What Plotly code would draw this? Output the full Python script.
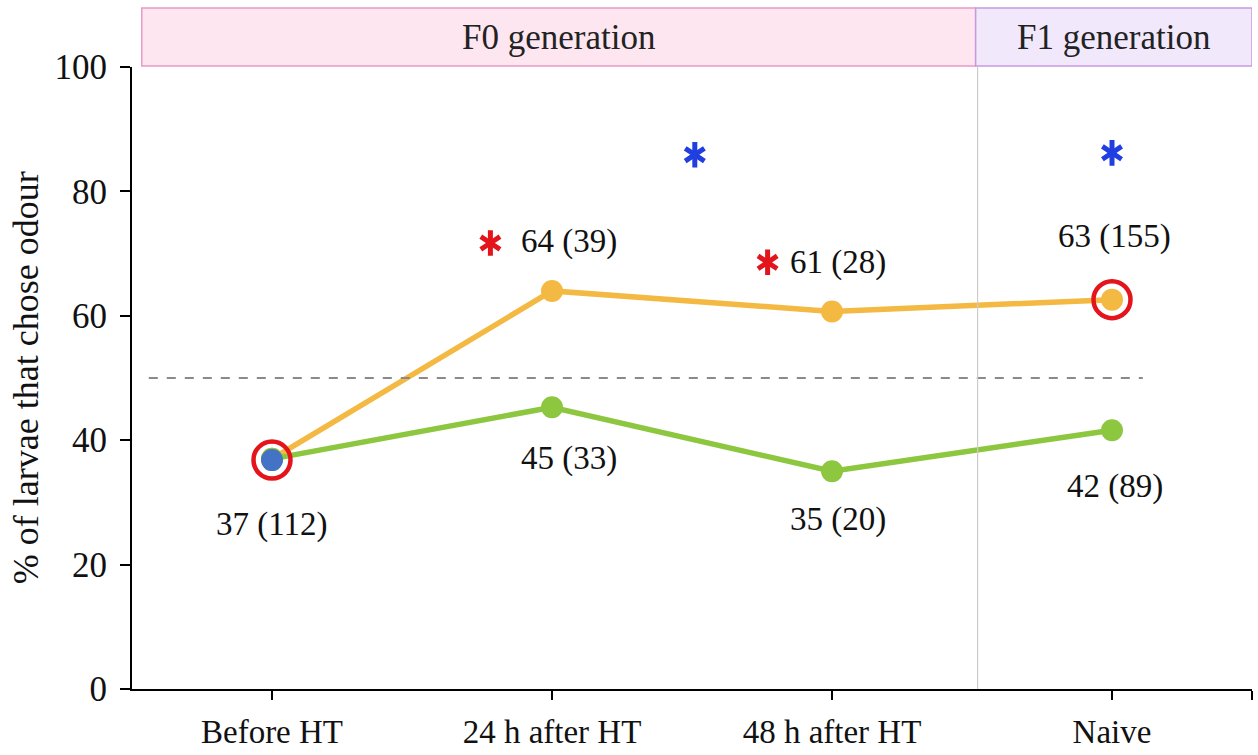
import plotly.graph_objects as go

# ---- data ----
categories = ["Before HT", "24 h after HT", "48 h after HT", "Naive"]
cat_pos = [0, 1, 2, 3]
orange_vals = [37.0, 64.0, 60.7, 62.6]
green_vals = [37.0, 45.3, 35.0, 41.6]
blue_val = [36.8]
orange_labels = ["64 (39)", "61 (28)", "63 (155)"]
green_labels = ["37 (112)", "45 (33)", "35 (20)", "42 (89)"]
chance_level = 50
red_star_x = [0.78, 1.77]
red_star_y = [71.7, 68.6]
blue_star_x = [1.51, 3.0]
blue_star_y = [85.9, 86.2]

# label positions (data coords)
orange_lab_x = [1.06, 2.02, 3.01]
orange_lab_y = [71.9, 68.6, 72.7]
green_lab_x = [0.0, 1.06, 2.02, 3.01]
green_lab_y = [26.5, 37.0, 27.3, 32.5]

ORANGE = "#F4B942"
GREEN = "#8DC63F"
BLUE = "#4472C4"
RED = "#E3141B"
STARBLUE = "#1F3FE0"
SERIF = "Liberation Serif, Times New Roman, serif"

fig = go.Figure()

# chance line
fig.add_shape(type="line", x0=-0.44, x1=3.11, y0=chance_level, y1=chance_level,
              xref="x", yref="y", line=dict(color="#8a8a8a", width=2, dash="dash"))
# divider
fig.add_shape(type="line", x0=2.52, x1=2.52, y0=0, y1=1, xref="x", yref="paper",
              line=dict(color="#cccccc", width=1.2))
# header boxes
fig.add_shape(type="rect", x0=-0.465, x1=2.513, y0=1.0016, y1=1.095, xref="x", yref="paper",
              fillcolor="#FDE6F0", line=dict(color="#E79BC8", width=1.5))
fig.add_shape(type="rect", x0=2.513, x1=3.5, y0=1.0016, y1=1.095, xref="x", yref="paper",
              fillcolor="#F1E9FB", line=dict(color="#C79ADF", width=1.5))
fig.add_annotation(x=(-0.465 + 2.513) / 2, y=1.048, xref="x", yref="paper",
                   xanchor="center", yanchor="middle",
                   text="F0 generation", showarrow=False,
                   font=dict(family=SERIF, size=35, color="#222"))
fig.add_annotation(x=(2.513 + 3.5) / 2, y=1.048, xref="x", yref="paper",
                   xanchor="center", yanchor="middle",
                   text="F1 generation", showarrow=False,
                   font=dict(family=SERIF, size=35, color="#222"))

fig.add_trace(go.Scatter(x=cat_pos, y=orange_vals, mode="lines+markers",
                         line=dict(color=ORANGE, width=5.5),
                         marker=dict(color=ORANGE, size=22), showlegend=False))
fig.add_trace(go.Scatter(x=cat_pos, y=green_vals, mode="lines+markers",
                         line=dict(color=GREEN, width=5.5),
                         marker=dict(color=GREEN, size=22), showlegend=False))
fig.add_trace(go.Scatter(x=[cat_pos[0]], y=blue_val, mode="markers",
                         marker=dict(color=BLUE, size=22), showlegend=False))
# red highlight circles
fig.add_trace(go.Scatter(x=[cat_pos[0], cat_pos[3]], y=[blue_val[0], orange_vals[3]],
                         mode="markers",
                         marker=dict(symbol="circle-open", size=37, color=RED,
                                     line=dict(color=RED, width=4.5)),
                         showlegend=False))

# asterisks (6 arms via two 3-arm markers)
for xs, ys, col in [(red_star_x, red_star_y, RED), (blue_star_x, blue_star_y, STARBLUE)]:
    for sym in ["y-up-open", "y-down-open"]:
        fig.add_trace(go.Scatter(x=xs, y=ys, mode="markers",
                                 marker=dict(symbol=sym, size=16, color=col,
                                             line=dict(color=col, width=5)),
                                 showlegend=False))

for t, x, y in zip(orange_labels, orange_lab_x, orange_lab_y):
    fig.add_annotation(x=x, y=y, text=t, showarrow=False, xanchor="center", yanchor="middle",
                       font=dict(family=SERIF, size=33, color="#111"))
for t, x, y in zip(green_labels, green_lab_x, green_lab_y):
    fig.add_annotation(x=x, y=y, text=t, showarrow=False, xanchor="center", yanchor="middle",
                       font=dict(family=SERIF, size=33, color="#111"))

# y title
fig.add_annotation(x=-0.0945, y=0.5, xref="paper", yref="paper",
                   xanchor="center", yanchor="middle",
                   text="% of larvae that chose odour", textangle=-90, showarrow=False,
                   font=dict(family=SERIF, size=36, color="#111"))

fig.update_xaxes(range=[-0.5, 3.5], tickvals=cat_pos + [3.5], ticktext=categories + [""],
                 showline=True, linecolor="black", linewidth=2, ticks="outside",
                 ticklen=9, tickwidth=2, tickcolor="black", showgrid=False, zeroline=False,
                 automargin=False,
                 ticklabelstandoff=3, tickfont=dict(family=SERIF, size=33, color="#111"))
fig.update_yaxes(range=[0, 100], tickvals=[0, 20, 40, 60, 80, 100],
                 showline=True, linecolor="black", linewidth=2, ticks="outside",
                 ticklen=10, tickwidth=2, tickcolor="black", showgrid=False, zeroline=False,
                 automargin=False,
                 ticklabelstandoff=6, tickfont=dict(family=SERIF, size=35, color="#111"))

fig.update_layout(width=1258, height=755, plot_bgcolor="white", paper_bgcolor="white",
                  margin=dict(l=132, r=6, t=67, b=66, autoexpand=False), showlegend=False)

fig.write_html("out.html", config={"displayModeBar": False},
               post_script="document.body.style.margin='0';document.body.style.overflow='hidden';")
